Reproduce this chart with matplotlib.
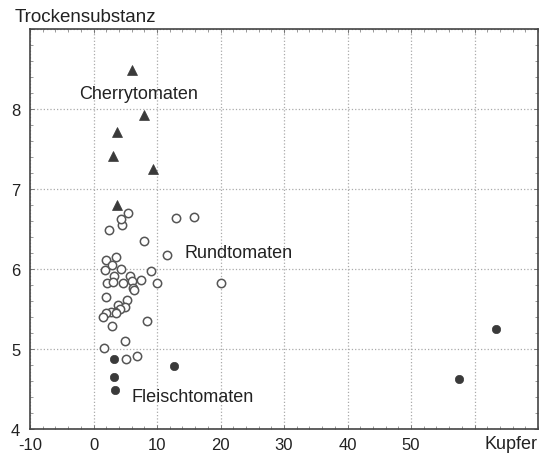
"""
Trockensubstanz vs Kupfer scatter, three tomato groups
"""

import matplotlib
matplotlib.use('Agg')
import matplotlib.pyplot as plt
from matplotlib.ticker import MultipleLocator

plt.rcParams['font.family'] = ['Liberation Sans', 'DejaVu Sans']

# Cherrytomaten (triangles)
cherry_x = [6.0, 7.9, 3.7, 3.1, 9.3, 3.7]
cherry_y = [8.49, 7.93, 7.71, 7.41, 7.25, 6.80]

# Rundtomaten (open circles)
rund_x = [2.5, 4.5, 5.5, 4.4, 13.0, 15.8, 8.0, 11.6, 2.0, 3.6, 1.8, 2.9, 4.4,
          9.1, 5.7, 3.2, 2.2, 3.0, 4.7, 6.0, 7.5, 10.0, 6.2, 6.3, 20.1, 1.9,
          5.2, 3.9, 5.0, 4.2, 3.4, 2.7, 3.6, 1.9, 1.5, 8.4, 2.9, 4.9, 1.7,
          5.1, 6.8]
rund_y = [6.49, 6.55, 6.70, 6.63, 6.64, 6.65, 6.35, 6.17, 6.11, 6.15, 5.99,
          6.05, 6.00, 5.98, 5.91, 5.91, 5.83, 5.84, 5.82, 5.85, 5.86, 5.83,
          5.76, 5.74, 5.82, 5.65, 5.61, 5.55, 5.52, 5.50, 5.46, 5.46, 5.45,
          5.45, 5.40, 5.35, 5.29, 5.10, 5.01, 4.88, 4.91]

# Fleischtomaten (filled circles)
fleisch_x = [3.25, 3.2, 3.35, 12.7, 63.4, 57.6]
fleisch_y = [4.88, 4.65, 4.49, 4.79, 5.25, 4.62]

xticks = [-10, 0, 10, 20, 30, 40, 50, 60]
xticklabels = ['-10', '0', '10', '20', '30', '40', '50', '']
yticks = [4, 5, 6, 7, 8, 9]
yticklabels = ['4', '5', '6', '7', '8', '']

mcol = '#3a3a3a'
fig = plt.figure(figsize=(5.4, 4.56), dpi=100)
ax = fig.add_axes([30/540, 1-430/456, 508/540, 400/456])

ax.plot(rund_x, rund_y, 'o', ms=6, mfc='white', mec='#555555', mew=1.1, zorder=3)
ax.plot(fleisch_x, fleisch_y, 'o', ms=6, mfc=mcol, mec=mcol, mew=0.5, zorder=3)
ax.plot(cherry_x, cherry_y, '^', ms=7, mfc=mcol, mec=mcol, mew=0.5, zorder=3)

ax.text(-2.2, 8.2, 'Cherrytomaten', fontsize=13, va='center', ha='left', color='#222222')
ax.text(14.3, 6.2, 'Rundtomaten', fontsize=13, va='center', ha='left', color='#222222')
ax.text(6.0, 4.4, 'Fleischtomaten', fontsize=13, va='center', ha='left', color='#222222')

ax.set_xlim(-10, 70)
ax.set_ylim(4, 9)
ax.set_xticks(xticks)
ax.set_xticklabels(xticklabels)
ax.set_yticks(yticks)
ax.set_yticklabels(yticklabels)
ax.xaxis.set_minor_locator(MultipleLocator(2))
ax.yaxis.set_minor_locator(MultipleLocator(0.2))
ax.tick_params(which='major', direction='in', length=3, width=0.6, colors='#666666',
               labelcolor='#222222', labelsize=12, pad=6, top=True, right=True)
ax.tick_params(which='minor', direction='in', length=2, width=0.6, colors='#888888',
               top=True, right=True)
ax.tick_params(axis='y', pad=7)
ax.grid(True, which='major', linestyle=':', color='#aaaaaa', linewidth=0.9)
for s in ax.spines.values():
    s.set_color('#444444')
    s.set_linewidth(1.2)

ax.text(1.0, -0.015, 'Kupfer', transform=ax.transAxes, ha='right', va='top',
        fontsize=13, color='#222222')
fig.text(15/540, 1-17/456, 'Trockensubstanz', ha='left', va='center',
         fontsize=13.5, color='#222222')

fig.savefig('out.png', dpi=100)
